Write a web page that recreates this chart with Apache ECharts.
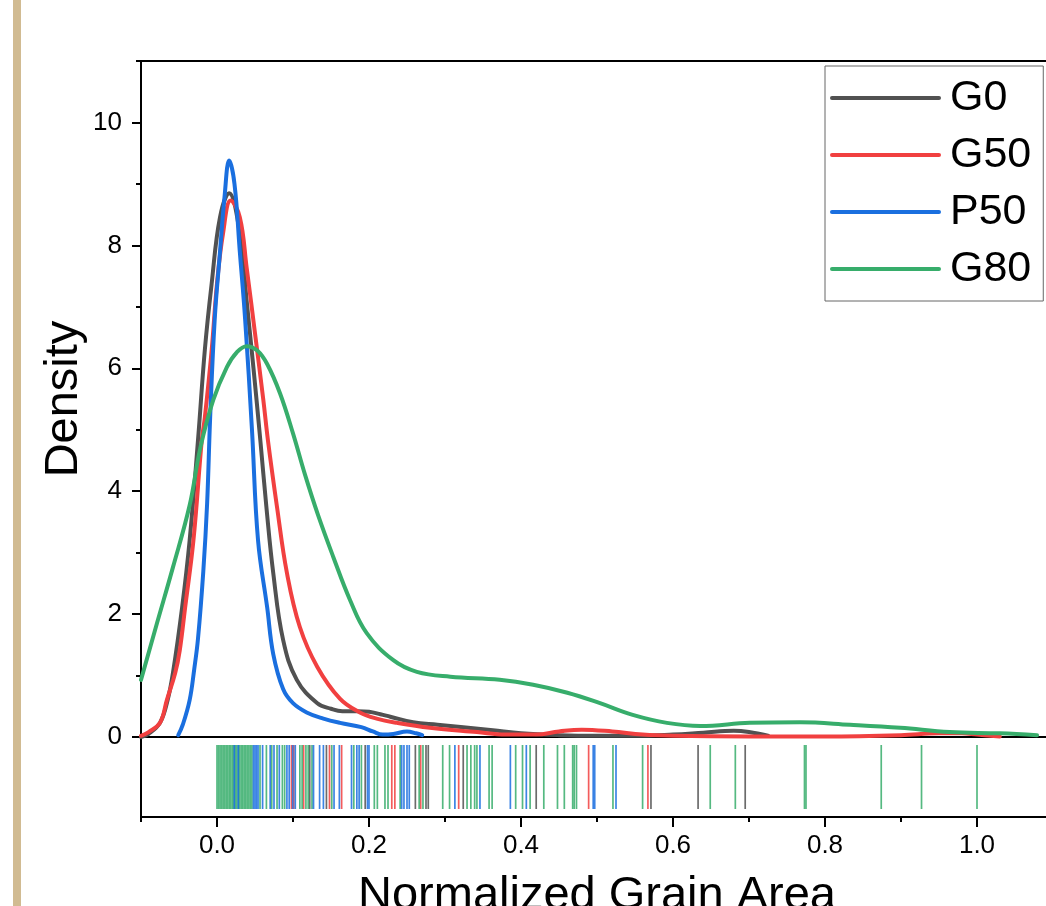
<!DOCTYPE html>
<html><head><meta charset="utf-8">
<script src="https://cdn.jsdelivr.net/npm/echarts@6/dist/echarts.min.js"></script>
<style>html,body{margin:0;padding:0;background:#fff}#c{width:1046px;height:906px}</style>
</head><body><div id="c"></div>
<script>
const seriesNames = ['G0', 'G50', 'P50', 'G80'];
const seriesColors = ['#515151', '#F14040', '#1A6FDF', '#37AD6B'];
const xTickLabels = [0.0, 0.2, 0.4, 0.6, 0.8, 1.0];
const xMinorTicks = [-0.1, 0.1, 0.3, 0.5, 0.7, 0.9, 1.1];
const yTickLabels = [0, 2, 4, 6, 8, 10];
const yMinorTicks = [1, 3, 5, 7, 9, 11];

// KDE curves [x, density]
const densityG0 = [[-0.1,0.0],[-0.09,0.05],[-0.075,0.23],[-0.065,0.6],[-0.058,1.04],[-0.046,2.1],[-0.036,3.2],[-0.025,4.83],[-0.016,6.3],[-0.007,7.38],[0.004,8.46],[0.016,8.85],[0.03,8.2],[0.039,7.1],[0.048,6.0],[0.057,4.83],[0.065,3.74],[0.074,2.67],[0.087,1.58],[0.105,0.93],[0.132,0.55],[0.15,0.46],[0.165,0.42],[0.185,0.42],[0.2,0.41],[0.215,0.37],[0.228,0.33],[0.258,0.24],[0.29,0.2],[0.324,0.16],[0.363,0.11],[0.4,0.06],[0.45,0.03],[0.5,0.02],[0.55,0.02],[0.6,0.04],[0.64,0.07],[0.68,0.1],[0.70,0.08],[0.725,0.02]];
const densityG50 = [[-0.1,0.02],[-0.09,0.08],[-0.075,0.23],[-0.066,0.6],[-0.055,1.04],[-0.049,1.41],[-0.042,2.1],[-0.031,3.2],[-0.02,4.83],[-0.016,5.2],[-0.007,6.3],[0.0,7.38],[0.008,8.2],[0.018,8.73],[0.03,8.46],[0.039,7.64],[0.05,6.57],[0.061,5.48],[0.067,4.83],[0.079,3.74],[0.092,2.67],[0.109,1.79],[0.132,1.14],[0.162,0.62],[0.188,0.4],[0.21,0.3],[0.237,0.23],[0.28,0.15],[0.342,0.08],[0.38,0.04],[0.42,0.04],[0.45,0.09],[0.48,0.12],[0.52,0.09],[0.56,0.04],[0.6,0.02],[0.7,0.01],[0.8,0.01],[0.9,0.03],[0.95,0.06],[0.98,0.06],[1.0,0.04],[1.03,0.01]];
const densityP50 = [[-0.051,0.03],[-0.045,0.2],[-0.036,0.6],[-0.03,1.1],[-0.025,1.6],[-0.018,2.7],[-0.013,3.8],[-0.009,5.2],[-0.003,6.8],[0.004,7.9],[0.010,8.8],[0.016,9.38],[0.023,9.0],[0.030,7.9],[0.037,6.8],[0.046,5.0],[0.054,3.2],[0.066,2.11],[0.074,1.35],[0.087,0.78],[0.1,0.55],[0.118,0.40],[0.14,0.30],[0.162,0.23],[0.19,0.16],[0.205,0.09],[0.218,0.04],[0.232,0.05],[0.25,0.09],[0.262,0.06],[0.27,0.03]];
const densityG80 = [[-0.1,0.93],[-0.079,1.85],[-0.058,2.76],[-0.036,3.77],[-0.022,4.70],[-0.005,5.48],[0.013,6.02],[0.026,6.26],[0.039,6.36],[0.053,6.29],[0.066,6.07],[0.083,5.59],[0.1,4.94],[0.116,4.26],[0.133,3.61],[0.153,2.93],[0.175,2.23],[0.197,1.69],[0.232,1.25],[0.263,1.06],[0.307,0.98],[0.372,0.93],[0.416,0.85],[0.461,0.72],[0.504,0.55],[0.547,0.36],[0.592,0.23],[0.636,0.18],[0.701,0.23],[0.767,0.24],[0.833,0.2],[0.899,0.15],[0.964,0.08],[1.03,0.06],[1.079,0.03]];

// rug positions (normalized grain areas)
const rugG0 = [0.122,0.144,0.195,0.261,0.275,0.278,0.324,0.420,0.571,0.633,0.695];
const rugG50 = [0.098,0.101,0.114,0.148,0.164,0.230,0.234,0.268,0.318,0.489,0.567];
const rugG80 = [0.000,0.002,0.004,0.006,0.008,0.010,0.012,0.014,0.016,0.018,0.020,0.022,0.024,0.026,0.028,0.030,0.032,0.034,0.036,0.038,0.040,0.042,0.044,0.046,0.0566,0.065,0.072,0.079,0.086,0.089,0.109,0.112,0.117,0.120,0.125,0.151,0.180,0.190,0.207,0.211,0.221,0.225,0.241,0.266,0.271,0.297,0.306,0.329,0.334,0.339,0.342,0.358,0.362,0.393,0.402,0.412,0.430,0.448,0.457,0.468,0.470,0.473,0.521,0.560,0.649,0.682,0.773,0.775,0.874,0.927,1.0];
const rugP50 = [0.0228,0.028,0.048,0.050,0.052,0.054,0.060,0.070,0.075,0.082,0.092,0.095,0.0996,0.103,0.127,0.135,0.140,0.154,0.161,0.177,0.184,0.187,0.198,0.200,0.243,0.246,0.250,0.253,0.313,0.346,0.386,0.407,0.495,0.497,0.525];

const FONT = "'Liberation Sans', Arial, sans-serif";
const curves = [densityG0, densityG50, densityP50, densityG80];
const rugs = [rugG0, rugG50, rugP50, rugG80];
const rugOrder = [0, 1, 3, 2];

const chart = echarts.init(document.getElementById('c'), null, {renderer: 'canvas'});

const lineSeries = seriesNames.map((n, i) => ({
  name: n, type: 'line', xAxisIndex: 0, yAxisIndex: 0,
  data: curves[i], showSymbol: false, symbol: 'none',
  smooth: 0.4,
  lineStyle: {width: 4, color: seriesColors[i], cap: 'round', join: 'round'},
  itemStyle: {color: seriesColors[i]},
  z: 3
}));

const rugSeries = rugOrder.map((i, k) => ({
  name: seriesNames[i] + ' rug', type: 'custom', xAxisIndex: 2, yAxisIndex: 2,
  data: rugs[i].map(v => [v, 0.5]),
  z: 2 + k,
  renderItem: function (params, api) {
    const x = api.value(0);
    const p0 = api.coord([x, 0.1]);
    const p1 = api.coord([x, 0.9]);
    return {type: 'line', shape: {x1: p0[0], y1: p0[1], x2: p1[0], y2: p1[1]},
      style: {stroke: seriesColors[i], lineWidth: 1.7, opacity: 0.85}};
  }
}));

const axisLineStyle = {show: true, onZero: false, lineStyle: {color: '#000', width: 2}};
const noLine = {show: false, onZero: false};

chart.setOption({
  animation: false,
  backgroundColor: '#fff',
  graphic: [{type: 'rect', left: 13, top: 0, shape: {width: 8, height: 906}, style: {fill: '#D1BB92'}, silent: true}],
  grid: [
    {left: 141, top: 61, right: -7, height: 676, containLabel: false, outerBoundsMode: 'none'},
    {left: 141, top: 737, right: -7, height: 80, containLabel: false, outerBoundsMode: 'none'}
  ],
  legend: {
    data: seriesNames, orient: 'vertical', left: 825, top: 66,
    itemWidth: 107, itemHeight: 14, itemGap: 11,
    padding: [9, 12, 9, 5],
    borderColor: '#666', borderWidth: 1, backgroundColor: '#fff',
    selectedMode: false,
    itemStyle: {opacity: 0},
    lineStyle: {width: 4, cap: 'round'},
    textStyle: {fontSize: 43, lineHeight: 46, fontFamily: FONT, color: '#000', padding: [0, 0, 0, 6]}
  },
  xAxis: [
    {gridIndex: 0, type: 'value', position: 'bottom', min: -0.1, max: 1.1,
      axisLine: axisLineStyle, axisTick: {show: false}, axisLabel: {show: false}, splitLine: {show: false}},
    {gridIndex: 0, type: 'value', position: 'top', min: -0.1, max: 1.1,
      axisLine: axisLineStyle, axisTick: {show: false}, axisLabel: {show: false}, splitLine: {show: false}},
    {gridIndex: 1, type: 'value', position: 'bottom', min: -0.1, max: 1.1,
      axisLine: axisLineStyle,
      axisTick: {show: true, length: 10, lineStyle: {width: 2, color: '#000'}, customValues: xTickLabels},
      axisLabel: {show: true, customValues: xTickLabels, formatter: v => Number(v).toFixed(1), fontSize: 26, fontFamily: FONT, color: '#000', margin: 16},
      splitLine: {show: false},
      name: 'Normalized Grain Area', nameLocation: 'middle', nameGap: 56, nameMoveOverlap: false,
      nameTextStyle: {fontSize: 47, fontFamily: FONT, color: '#000'}},
    {gridIndex: 1, type: 'value', position: 'bottom', min: -0.1, max: 1.1,
      axisLine: noLine,
      axisTick: {show: true, length: 5, lineStyle: {width: 2, color: '#000'}, customValues: xMinorTicks},
      axisLabel: {show: false}, splitLine: {show: false}}
  ],
  yAxis: [
    {gridIndex: 0, type: 'value', position: 'left', min: 0, max: 11,
      axisLine: axisLineStyle,
      axisTick: {show: true, length: 9, lineStyle: {width: 2, color: '#000'}, customValues: yTickLabels},
      axisLabel: {show: true, customValues: yTickLabels, fontSize: 26, fontFamily: FONT, color: '#000', margin: 19},
      splitLine: {show: false},
      name: 'Density', nameLocation: 'middle', nameGap: 53, nameRotate: 90, nameMoveOverlap: false,
      nameTextStyle: {fontSize: 47, fontFamily: FONT, color: '#000'}},
    {gridIndex: 0, type: 'value', position: 'left', min: 0, max: 11,
      axisLine: noLine,
      axisTick: {show: true, length: 5, lineStyle: {width: 2, color: '#000'}, customValues: yMinorTicks},
      axisLabel: {show: false}, splitLine: {show: false}},
    {gridIndex: 1, type: 'value', position: 'left', min: 0, max: 1,
      axisLine: axisLineStyle, axisTick: {show: false}, axisLabel: {show: false}, splitLine: {show: false}}
  ],
  series: lineSeries.concat(rugSeries)
});
</script>
</body></html>
